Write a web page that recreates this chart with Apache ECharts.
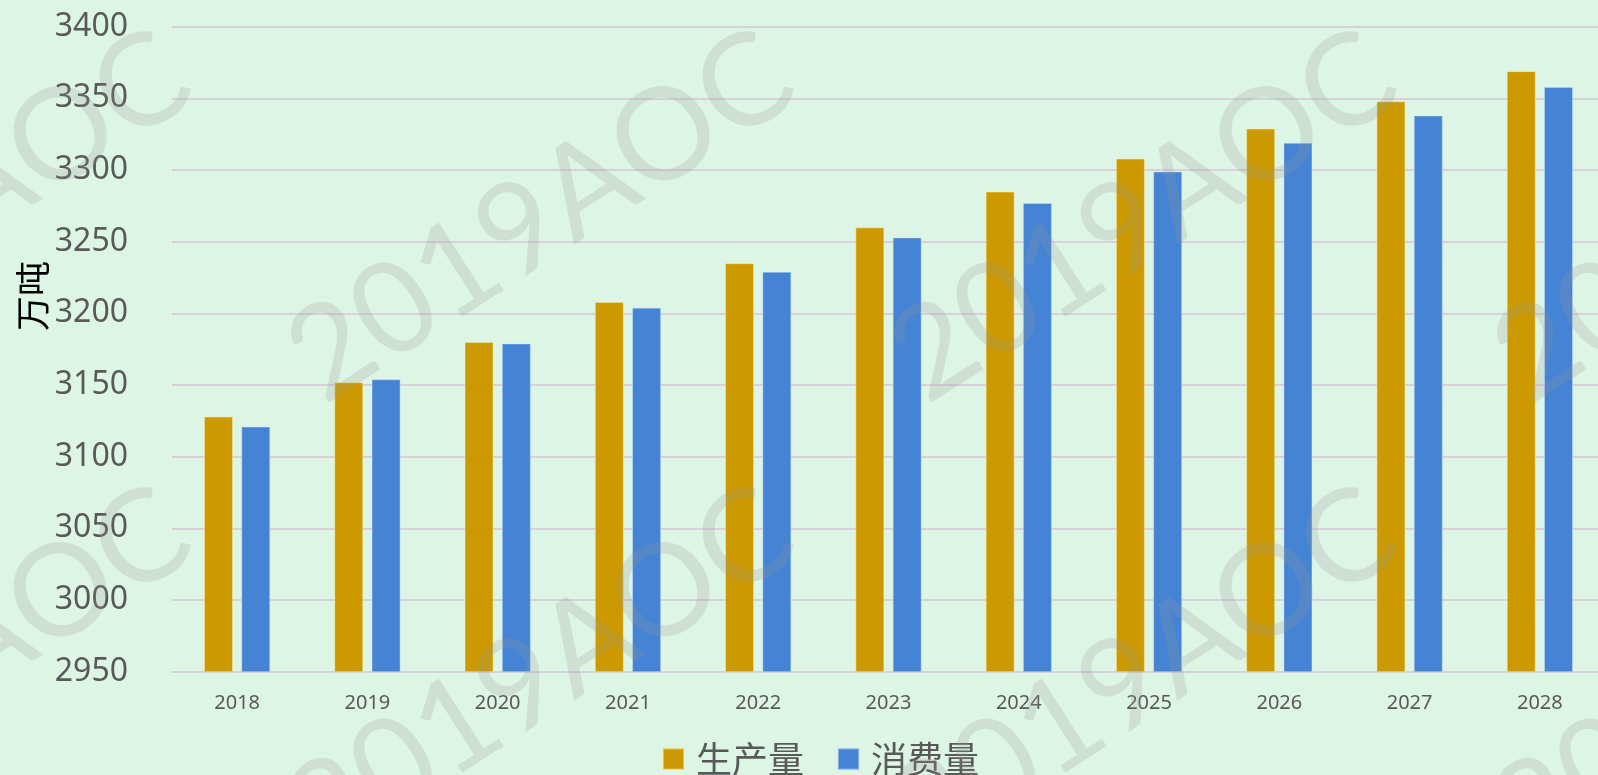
<!DOCTYPE html>
<html>
<head>
<meta charset="utf-8">
<style>
  html, body { margin: 0; padding: 0; background: #ddf5e5; }
  #chart { width: 1598px; height: 775px; }
</style>
<script src="https://cdn.jsdelivr.net/npm/echarts@6/dist/echarts.min.js"></script>
</head>
<body>
<div id="chart"></div>
<script>
// Years on the category axis
const years = ['2018', '2019', '2020', '2021', '2022', '2023', '2024', '2025', '2026', '2027', '2028'];
// Output and consumption, in 10k tonnes
const production = [3128, 3152, 3180, 3208, 3235, 3260, 3285, 3308, 3329, 3348, 3369];
const consumption = [3121, 3154, 3179, 3204, 3229, 3253, 3277, 3299, 3319, 3338, 3358];
const seriesNames = ['生产量', '消费量'];
const unitLabel = '万吨';
const watermarkText = '2019AOC';

const chart = echarts.init(document.getElementById('chart'), null, { renderer: 'canvas' });

// Tiled diagonal watermark
const markAngle = 32.7 * Math.PI / 180;
const markCenters = [];
[217, 673].forEach(function (cy) {
  [-62, 541, 1144, 1747].forEach(function (cx) { markCenters.push([cx, cy]); });
});
const watermarks = markCenters.map(function (c) {
  return {
    type: 'text',
    x: c[0], y: c[1],
    rotation: markAngle,
    z: 100,
    silent: true,
    style: {
      text: watermarkText,
      font: '400 128px Lato, "Noto Sans", sans-serif',
      fill: 'rgba(150,150,150,0.22)',
      align: 'center',
      verticalAlign: 'middle'
    }
  };
});

const gridLineColor = '#d9d0da';

chart.setOption({
  backgroundColor: '#ddf5e5',
  animation: false,
  grid: { left: 172, top: 26.7, width: 1433, height: 645, containLabel: false, outerBoundsMode: 'none' },
  legend: {
    data: seriesNames,
    left: 662,
    top: 741,
    padding: 0,
    icon: 'rect',
    itemWidth: 21,
    itemHeight: 21,
    itemGap: 33,
    textStyle: {
      fontFamily: '"Noto Sans CJK SC", sans-serif',
      fontSize: 36,
      color: '#595959',
      padding: [0, 0, 0, 7]
    }
  },
  xAxis: {
    type: 'category',
    data: years,
    axisLine: { show: true, lineStyle: { color: gridLineColor, width: 2 } },
    axisTick: { show: false },
    axisLabel: {
      margin: 22,
      fontFamily: '"Noto Sans", sans-serif',
      fontSize: 20,
      color: '#595959'
    }
  },
  yAxis: {
    type: 'value',
    min: 2950,
    max: 3400,
    interval: 50,
    axisLine: { show: false },
    axisTick: { show: false },
    splitLine: { lineStyle: { color: gridLineColor, width: 2 } },
    axisLabel: {
      margin: 44,
      fontFamily: '"Noto Sans", sans-serif',
      fontSize: 32,
      color: '#595959',
      formatter: function (v) { return String(v); }
    }
  },
  series: [
    {
      name: seriesNames[0],
      type: 'bar',
      data: production,
      barWidth: 29,
      barGap: '28.6%',
      itemStyle: { color: '#cc9a00', borderColor: 'rgba(255,240,180,0.45)', borderWidth: 1 }
    },
    {
      name: seriesNames[1],
      type: 'bar',
      data: consumption,
      barWidth: 29,
      itemStyle: { color: '#4583d4', borderColor: 'rgba(200,225,255,0.45)', borderWidth: 1 }
    }
  ],
  graphic: [
    {
      type: 'text',
      x: 33, y: 296,
      rotation: Math.PI / 2,
      style: {
        text: unitLabel,
        font: '35px "Noto Sans CJK SC", sans-serif',
        fill: '#000000',
        align: 'center',
        verticalAlign: 'middle'
      }
    }
  ].concat(watermarks)
});
</script>
</body>
</html>
